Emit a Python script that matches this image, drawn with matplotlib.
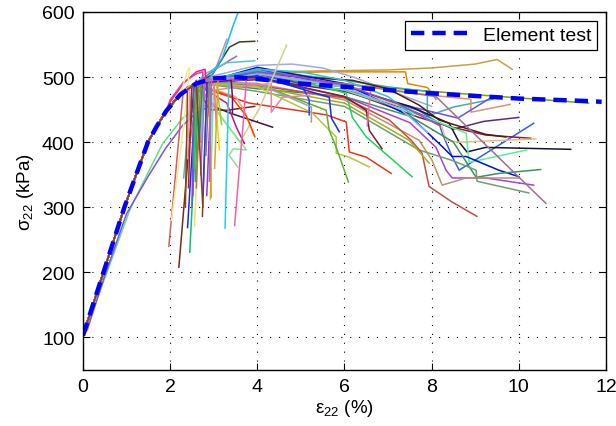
import matplotlib
matplotlib.use("Agg")
import matplotlib.pyplot as plt

plt.rcParams['font.family'] = ['Liberation Sans', 'DejaVu Sans']
plt.rcParams['mathtext.fontset'] = 'custom'
plt.rcParams['mathtext.rm'] = 'Liberation Sans'
plt.rcParams['mathtext.default'] = 'regular'

# shared loading branch (strain %, stress kPa)
load_strain = [0.0, 0.47, 0.95, 1.49, 1.69, 1.91, 2.23, 2.59]
load_stress = [103, 200, 300, 400, 424, 448, 473, 490]

# element test
elem_strain = [0.0, 0.47, 0.95, 1.49, 1.69, 1.91, 2.23, 2.59, 3.0, 3.5, 4.0, 5.0, 6.0, 7.0, 8.0, 10.0, 11.65, 11.9]
elem_stress = [103, 200, 300, 400, 424, 448, 473, 490, 498, 500, 497, 490, 485, 480, 475, 467, 463, 462]

# softening curves (points after the loading branch)
soft_strain = [
    [3.2, 4, 5, 6, 7, 8, 9, 9.5, 9.85],
    [3.2, 4, 5.5, 7.4, 7.45, 7.9, 8.1],
    [3.0, 4, 6, 8, 10, 11.6],
    [3.0, 4, 4.8, 5.5, 6.2, 7, 8],
    [3.0, 4, 5, 6, 7, 7.9, 7.9, 8.5, 9.4],
    [3.0, 4, 6, 8, 8.9, 8.9, 9.8],
    [3.0, 4, 6, 7.5, 8.6, 9.4],
    [3.0, 4, 6, 7.5, 8.5, 9.2, 10.0],
    [3.0, 4, 6, 7.7, 8.17, 8.24, 8.47, 8.63, 10.34],
    [3.0, 4, 6, 7.5, 8.4, 8.63, 8.81, 9.24, 11.19],
    [3.0, 4, 6, 7.71, 8.47, 9.24, 10.27],
    [3.0, 4, 6, 7.5, 8.24, 8.33, 8.63, 10.39],
    [3.0, 4, 6.18, 7, 7.71, 8.17, 9.24, 9.7],
    [3.0, 4, 6, 7.8, 8.79, 8.86, 10.18],
    [3.0, 4, 6, 7.5, 8.17, 8.47, 8.79, 9.54, 10.0],
    [3.0, 4, 6, 7.5, 8.5, 9.02, 9.54, 10.5],
    [3.0, 4, 6, 7.5, 8.1, 8.33, 8.47, 9.24, 10.34],
    [3.0, 4, 6, 7.71, 8.01, 8.24, 8.79, 10.0],
    [3.0, 4, 6, 7.71, 8.47, 9.02, 9.04, 10.23],
    [3.0, 4, 6, 8.1, 10.62],
    [3.0, 4, 6, 7.03, 7.53, 7.78, 7.94, 8.47, 9.04],
    [3.0, 4, 6, 7.48, 7.94],
    [2.9, 3.82, 5.58, 6.04, 6.11, 6.5, 7.07],
    [3.0, 4, 5.5, 6.04, 6.18, 6.5, 7.55],
    [3.0, 4, 5.26, 5.81, 5.81, 6.11, 6.57],
    [3.0, 4, 5.58, 5.65, 5.81, 6.09],
    [3.0, 4, 6, 6.5, 6.57, 6.86],
    [3.0, 4, 6, 6.6, 6.52],
    [3.0, 4, 5, 5.19, 5.19],
    [3.0, 4, 5.65, 5.7, 5.88],
    [3.0, 4, 5.24, 5.24],
    [3.0, 4, 4.32, 4.32, 4.58, 5.2],
    [3.0, 4, 6, 7.3, 7.9],
    [3.0, 4, 5, 6, 7, 7.6],
    [3.0, 4, 5, 6, 7.2, 8.2],
]
soft_stress = [
    [500, 506, 509, 510, 511, 514, 520, 527, 512],
    [500, 505, 508, 508, 490, 484, 466],
    [498, 500, 489, 478, 468, 460],
    [502, 518, 520, 514, 500, 480, 455],
    [498, 508, 503, 495, 485, 478, 440, 454, 466],
    [495, 503, 490, 472, 466, 446, 458],
    [495, 500, 480, 455, 437, 470],
    [492, 497, 478, 450, 420, 432, 438],
    [495, 512, 485, 449, 429, 414, 378, 357, 429],
    [495, 502, 485, 455, 429, 400, 385, 392, 389],
    [493, 496, 480, 438, 423, 411, 406],
    [495, 503, 485, 450, 423, 403, 400, 405],
    [497, 505, 495, 482, 457, 434, 412, 408],
    [494, 500, 480, 440, 414, 369, 388],
    [496, 515, 490, 440, 398, 378, 378, 357, 347],
    [490, 482, 470, 440, 400, 346, 352, 358],
    [492, 498, 470, 430, 392, 357, 345, 345, 334],
    [490, 490, 465, 403, 372, 334, 345, 345],
    [488, 478, 455, 388, 372, 357, 340, 322],
    [495, 500, 490, 470, 306],
    [490, 487, 468, 434, 403, 383, 332, 308, 286],
    [488, 485, 460, 403, 368],
    [480, 460, 442, 431, 385, 377, 352],
    [495, 510, 485, 475, 438, 408, 347],
    [490, 485, 445, 408, 383, 377, 362],
    [492, 490, 449, 418, 392, 339],
    [495, 500, 470, 449, 418, 390],
    [495, 507, 485, 480, 425],
    [497, 505, 490, 465, 442],
    [495, 502, 469, 437, 416],
    [490, 490, 454, 431],
    [480, 488, 490, 446, 469, 472],
    [495, 505, 485, 450, 415],
    [498, 512, 508, 495, 470, 440],
    [496, 508, 500, 488, 460, 425],
]
soft_colors = ['#c8a040', '#e08a00', '#6aaa10', '#a0a8e8', '#40b0a0', '#e09070', '#7050e0',
               '#5a2a8a', '#3060f0', '#101830', '#8b1a3a', '#e0c080', '#4a2010', '#60f090',
               '#0010e0', '#409060', '#b040d0', '#c09070', '#70a070', '#a07090', '#c05040',
               '#a0b020', '#f03020', '#20d060', '#b0c840', '#60b030', '#802020', '#e070b0',
               '#2040ff', '#1030e0', '#a0a0a0', '#f080a0', '#80c0f0', '#30c0e0', '#9050c0']

# curves that snap back near the peak
snap_strain = [
    [2.3, 1.97], [2.55, 2.2], [2.6, 2.4], [2.65, 2.45], [2.7, 2.56], [2.6, 2.52],
    [2.85, 2.74], [2.85, 2.75], [2.95, 2.84], [3.0, 2.92], [3.35, 3.26],
    [3.75, 3.7, 3.48], [2.4, 2.45, 2.3, 2.03], [2.5, 2.31], [2.65, 2.45],
    [2.8, 2.63], [2.9, 2.94], [3.0, 3.13], [3.05, 3.18], [3.0, 3.06],
    [3.4, 3.43, 3.43], [2.75, 2.7], [2.7, 2.6], [2.55, 2.5], [2.6, 2.55],
    [2.4, 2.35], [2.5, 2.42], [2.65, 2.58], [2.8, 2.7], [2.9, 2.82],
    [2.45, 2.4], [2.75, 2.66], [3.1, 3.02], [2.95, 2.9], [2.6, 2.75],
]
snap_stress = [
    [478, 240], [488, 208], [490, 269], [492, 231], [494, 271], [495, 318],
    [496, 286], [496, 318], [498, 318], [498, 312], [500, 268],
    [500, 449, 272], [510, 515, 420, 280], [486, 345], [490, 397],
    [494, 388], [496, 315], [498, 388], [498, 427], [496, 425],
    [495, 469, 445], [495, 360], [494, 330], [490, 300], [491, 360],
    [485, 300], [488, 330], [492, 340], [495, 350], [497, 380],
    [487, 375], [495, 410], [499, 360], [497, 340], [490, 300],
]
snap_colors = ['#d06060', '#7a2a10', '#2020ff', '#00c070', '#f0e060', '#e020c0', '#904010',
               '#3040e0', '#a030d0', '#80e0a0', '#20d0f0', '#f060b0', '#f8e890', '#50c0a0',
               '#c08040', '#6060c0', '#ff8c00', '#e0e000', '#9acd32', '#ff69b4', '#800080',
               '#40e0d0', '#d2691e', '#4169e1', '#32cd32', '#8b4513', '#b22222', '#20b070',
               '#c060e0', '#708090', '#e8a0c0', '#2e8b57', '#daa520', '#9370db', '#8b3a1a']

# short curves around the peak zone
peak_strain = [
    [2.97, 3.36, 3.59, 3.94], [2.8, 3.06, 3.3], [2.8, 3.13, 3.52], [2.8, 3.3, 3.94],
    [2.9, 3.2, 3.45, 3.62], [3.6, 4.05, 4.67], [3.0, 3.36, 4.35], [2.9, 3.3, 3.94],
    [3.3, 3.52, 3.7], [3.5, 3.7, 3.94], [3.4, 3.75, 3.94],
    [2.0, 2.3, 2.6, 2.8, 2.9], [2.0, 2.3, 2.6, 2.75, 2.7], [3.5, 3.75, 3.45, 3.35, 3.55],
]
peak_stress = [
    [504, 546, 554, 555], [500, 516, 558], [500, 516, 532], [505, 522, 525],
    [498, 530, 580, 610], [400, 452, 549], [455, 445, 423], [450, 449, 455],
    [460, 423, 398], [470, 449, 408], [470, 440, 409],
    [462, 490, 508, 512, 440], [465, 492, 505, 508, 400], [410, 388, 390, 380, 362],
]
peak_colors = ['#3a4020', '#c090a0', '#9070b0', '#50c0e0', '#10c0f0', '#d0d090', '#4a1040',
               '#603010', '#c71585', '#ffa07a', '#ff4500', '#ff1493', '#e040a0', '#90e090']

# softer samples rising below the others
slow_strain = [[0.1, 0.23, 1.07, 1.18, 1.53, 1.83, 2.29, 2.6, 3.0],
               [0.1, 0.5, 1.0, 1.5, 1.9, 2.29, 2.6, 3.0]]
slow_stress = [[115, 142, 295, 311, 358, 398, 437, 452, 460],
               [112, 195, 290, 348, 391, 426, 445, 458]]
slow_colors = ['#60e080', '#8050e0']


def with_loading(xs, ys):
    px = [s for s in load_strain if s < xs[0]]
    py = [load_stress[i] for i, s in enumerate(load_strain) if s < xs[0]]
    return px + list(xs), py + list(ys)


fig = plt.figure(figsize=(6.16, 4.27), dpi=100)
ax = fig.add_axes([0.1347, 0.1311, 0.8491, 0.8385])

for xs, ys, c in zip(slow_strain, slow_stress, slow_colors):
    ax.plot(*with_loading(xs, ys), color=c, lw=1.1)
for xs, ys, c in zip(soft_strain, soft_stress, soft_colors):
    ax.plot(*with_loading(xs, ys), color=c, lw=1.1)
for xs, ys, c in zip(peak_strain, peak_stress, peak_colors):
    ax.plot(*with_loading(xs, ys), color=c, lw=1.1)
for xs, ys, c in zip(snap_strain, snap_stress, snap_colors):
    ax.plot(*with_loading(xs, ys), color=c, lw=1.1)

ax.plot(elem_strain, elem_stress, color='#0000ff', lw=3.2, linestyle=(0, (3.0, 1.8)),
        label='Element test')

ax.set_xlim(0, 12)
ax.set_ylim(50, 600)
ax.set_xticks(range(0, 13, 2))
ax.set_yticks(range(100, 601, 100))
ax.tick_params(direction='in', top=True, right=True, length=5, width=0.8,
               labelsize=14, pad=6)
ax.grid(True, color='k', linestyle=(0, (1, 7)), linewidth=0.8)
ax.set_axisbelow(True)
for sp in ax.spines.values():
    sp.set_linewidth(1.0)

ax.set_xlabel('ε$_{22}$ (%)', fontsize=13.5, labelpad=1)
ax.set_ylabel('σ$_{22}$ (kPa)', fontsize=13.5, labelpad=4)

leg = ax.legend(loc='upper right', fontsize=14, fancybox=False, framealpha=1,
                edgecolor='k', handlelength=3.3, handletextpad=0.4,
                borderaxespad=0.45, borderpad=0.3)
leg.get_frame().set_linewidth(0.9)

fig.savefig('out.png', dpi=100)
